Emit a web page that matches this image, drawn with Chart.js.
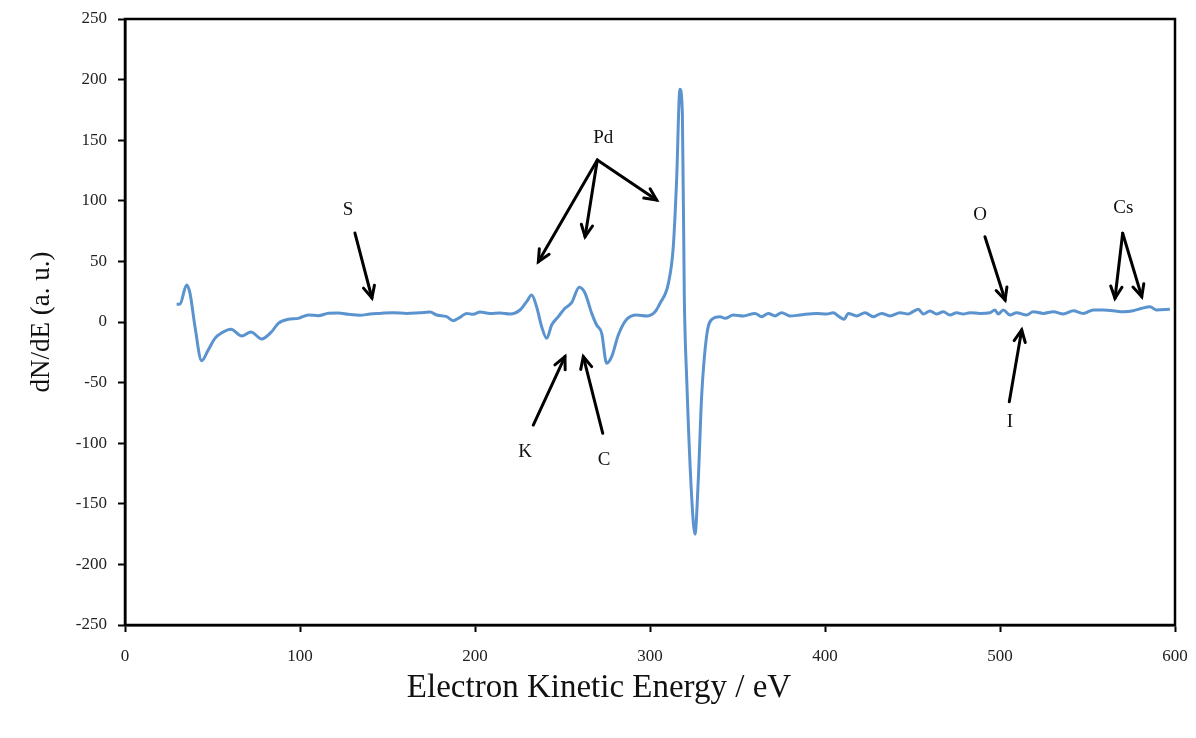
<!DOCTYPE html>
<html>
<head>
<meta charset="utf-8">
<script src="https://cdn.jsdelivr.net/npm/chart.js@4.4.1/dist/chart.umd.min.js"></script>
<style>
  html, body { margin: 0; padding: 0; background: #ffffff; }
  canvas { display: block; }
</style>
</head>
<body>
<canvas id="c" width="1196" height="738"></canvas>
<script>
// ---- data ----
const energy = [29.5, 31.4, 35.2, 37.1, 40, 43.8, 47.6, 51.4, 55.2, 60.6, 66.7, 72, 78.1, 83.8, 87.6, 93.3, 99,
  104.8, 110.5, 116.2, 121.9, 127.6, 134.3, 140, 145.7, 153.3, 161, 168.6, 174.3, 178.1, 183.8, 187.6, 191.4,
  195.2, 199, 202.9, 208.6, 214.3, 220, 225.7, 229.5, 232.4, 235.2, 238.1, 241, 243.8, 247.6, 251.4, 255.2,
  259.6, 262.9, 266.7, 269.5, 272.4, 275.2, 278.1, 281.9, 286.7, 292.4, 298.1, 302.9, 305.7, 310.5, 313.3,
  315.2, 317.1, 318.5, 319.6, 321, 323.8, 325.7, 327.6, 329.5, 332.4, 335.2, 340, 342.9, 347.6, 353.3, 360,
  363.8, 367.6, 371.4, 375.2, 380, 385.7, 395.2, 401, 404.8, 407.6, 410.9, 413.3, 418.1, 422.9, 427.6, 432.4,
  437.1, 442.9, 447.6, 450.5, 453.3, 456.2, 460, 463.8, 467.6, 471.4, 475.2, 479, 482.9, 488.6, 494.3, 497.1,
  499, 501.9, 505.7, 509.5, 515.2, 519, 524.8, 530.5, 536.2, 541.9, 547.6, 553.3, 559, 564.8, 570.5, 576.2,
  581, 585.7, 589.5, 597.1];
const signal = [14.6, 14.8, 30.5, 24, -3.9, -32, -23, -13.5, -9, -6, -11.6, -8.3, -14, -8, -1.1, 2.2, 3,
  5.8, 5.2, 7.2, 7.4, 6.3, 5.5, 6.6, 7.1, 7.7, 7.1, 7.7, 8.2, 5.8, 4.4, 1.1, 3.8,
  7.1, 6.3, 8.2, 7.1, 7.4, 6.6, 9.9, 16.8, 22.3, 12.6, -3.9, -13.5, -2.5, 4.4, 11.3, 15.9,
  28.6, 23.7, 7.1, -2.5, -9.3, -34, -28.6, -10.7, 2.2, 5.8, 5, 8.5, 15.4, 31.9, 62,
  117, 192, 172, 21, -47.9, -144, -175, -130, -61.6, -11, 2, 4.4, 3, 5.8, 5, 7.1,
  4.4, 7.1, 5, 7.7, 5, 5.8, 7.1, 6.6, 7.7, 5, 2.2, 7.1, 5, 7.7, 4.4, 7.1,
  5, 7.7, 6.6, 8.8, 10.5, 6.6, 9, 6.6, 8.5, 5.8, 7.7, 6.6, 7.7, 7.1, 7.7, 9.9,
  6.6, 9.9, 5.8, 7.7, 5.8, 8.5, 7.1, 8.5, 6.6, 9.3, 7.1, 9.9, 9.9, 9.3, 8.5, 9.3,
  11.3, 12.6, 9.9, 10.5];
const xTicks = [0, 100, 200, 300, 400, 500, 600];
const yTicks = [-250, -200, -150, -100, -50, 0, 50, 100, 150, 200, 250];
const xTitle = 'Electron Kinetic Energy / eV';
const yTitle = 'dN/dE (a. u.)';

// element labels and their arrows, in data units
const labelText = ['S', 'Pd', 'K', 'C', 'O', 'Cs', 'I'];
const labelX    = [127.4, 273.3, 228.6, 273.7, 488.6, 570.5, 505.7];
const labelY    = [92.4, 151.6, -107, -113.9, 88.3, 93.8, -82.3];
const arrowFromX = [131.4, 269.9, 269.9, 269.9, 233.3, 273, 491.4, 570.1, 570.1, 505.3];
const arrowFromY = [73.4, 133.7, 133.7, 133.7, -85, -91.8, 70.4, 73.2, 73.2, -65.8];
const arrowToX   = [141.1, 236.2, 262.9, 303.8, 251.4, 261.9, 502.9, 565.7, 581, 512.4];
const arrowToY   = [19.8, 49.8, 70.4, 100.7, -28.6, -28.6, 18.2, 19.6, 20.9, -6.6];

const points = energy.map((e, i) => ({ x: e, y: signal[i] }));
const SERIF = '"Liberation Serif", "DejaVu Serif", serif';

const annotations = {
  id: 'annotations',
  afterDatasetsDraw(chart) {
    const ctx = chart.ctx;
    const xs = chart.scales.x, ys = chart.scales.y;
    ctx.save();
    ctx.fillStyle = '#111';
    ctx.font = '19px ' + SERIF;
    ctx.textAlign = 'center';
    ctx.textBaseline = 'middle';
    labelText.forEach((t, i) => {
      ctx.fillText(t, xs.getPixelForValue(labelX[i]), ys.getPixelForValue(labelY[i]));
    });
    ctx.strokeStyle = '#000';
    ctx.lineWidth = 3;
    ctx.lineCap = 'round';
    ctx.lineJoin = 'miter';
    arrowFromX.forEach((fx, i) => {
      const x1 = xs.getPixelForValue(fx), y1 = ys.getPixelForValue(arrowFromY[i]);
      const x2 = xs.getPixelForValue(arrowToX[i]), y2 = ys.getPixelForValue(arrowToY[i]);
      const ang = Math.atan2(y2 - y1, x2 - x1);
      const h = 13, spread = 0.45;
      ctx.beginPath();
      ctx.moveTo(x1, y1);
      ctx.lineTo(x2, y2);
      ctx.stroke();
      ctx.beginPath();
      ctx.moveTo(x2 - h * Math.cos(ang - spread), y2 - h * Math.sin(ang - spread));
      ctx.lineTo(x2, y2);
      ctx.lineTo(x2 - h * Math.cos(ang + spread), y2 - h * Math.sin(ang + spread));
      ctx.stroke();
    });
    ctx.restore();
  }
};

const frame = {
  id: 'frame',
  afterDraw(chart) {
    const a = chart.chartArea, ctx = chart.ctx;
    ctx.save();
    ctx.strokeStyle = '#000';
    ctx.lineWidth = 2.5;
    ctx.strokeRect(a.left, a.top, a.right - a.left, a.bottom - a.top);
    // x-axis title, centred on the page as in the reference
    ctx.fillStyle = '#111';
    ctx.font = '33px ' + SERIF;
    ctx.textAlign = 'center';
    ctx.textBaseline = 'middle';
    ctx.fillText(xTitle, chart.width / 2 + 1, 688);
    ctx.restore();
  }
};

new Chart(document.getElementById('c'), {
  type: 'line',
  data: {
    datasets: [{
      data: points,
      borderColor: '#5b93cf',
      borderWidth: 3,
      pointRadius: 0,
      fill: false,
      cubicInterpolationMode: 'monotone'
    }]
  },
  options: {
    responsive: false,
    animation: false,
    devicePixelRatio: 1,
    layout: { autoPadding: false, padding: { left: 0, right: 21, top: 19, bottom: 0 } },
    plugins: { legend: { display: false }, tooltip: { enabled: false } },
    scales: {
      x: {
        type: 'linear', min: 0, max: 600,
        afterBuildTicks: s => { s.ticks = xTicks.map(v => ({ value: v })); },
        afterFit: s => { s.height = 113; s.paddingLeft = 0; s.paddingRight = 0; },
        grid: { display: true, drawOnChartArea: false, drawTicks: true, tickLength: 7, tickColor: '#000', tickWidth: 2 },
        border: { display: true, color: '#000', width: 2.5 },
        ticks: { color: '#222', font: { family: SERIF, size: 17 }, padding: 14, maxRotation: 0 },
        title: { display: false }
      },
      y: {
        type: 'linear', min: -250, max: 250,
        afterBuildTicks: s => { s.ticks = yTicks.map(v => ({ value: v })); },
        afterFit: s => { s.width = 125; s.paddingTop = 0; s.paddingBottom = 0; },
        grid: { display: true, drawOnChartArea: false, drawTicks: true, tickLength: 7, tickColor: '#000', tickWidth: 2 },
        border: { display: true, color: '#000', width: 2.5 },
        ticks: { color: '#222', font: { family: SERIF, size: 17 }, padding: 11 },
        title: { display: true, text: yTitle, color: '#111', font: { family: SERIF, size: 27 }, padding: { top: 26, bottom: 0 } }
      }
    }
  },
  plugins: [annotations, frame]
});
</script>
</body>
</html>
